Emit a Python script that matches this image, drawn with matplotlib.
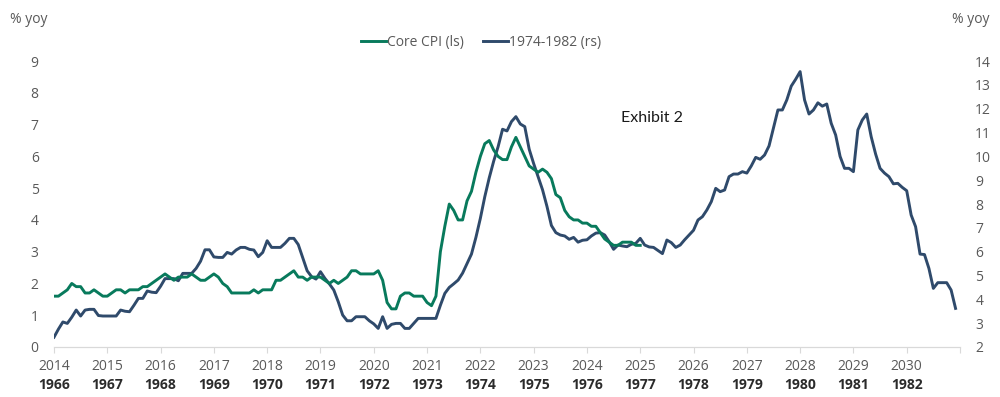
import numpy as np
import matplotlib
matplotlib.use("Agg")
import matplotlib.pyplot as plt
import matplotlib.transforms as mtransforms

# core CPI yoy, monthly Jan 2014 - Jan 2025 (left scale)
core_cpi = [
    1.6, 1.6, 1.7, 1.8, 2.0, 1.9, 1.9, 1.7, 1.7, 1.8, 1.7, 1.6,
    1.6, 1.7, 1.8, 1.8, 1.7, 1.8, 1.8, 1.8, 1.9, 1.9, 2.0, 2.1,
    2.2, 2.3, 2.2, 2.1, 2.2, 2.2, 2.2, 2.3, 2.2, 2.1, 2.1, 2.2,
    2.3, 2.2, 2.0, 1.9, 1.7, 1.7, 1.7, 1.7, 1.7, 1.8, 1.7, 1.8,
    1.8, 1.8, 2.1, 2.1, 2.2, 2.3, 2.4, 2.2, 2.2, 2.1, 2.2, 2.2,
    2.2, 2.1, 2.0, 2.1, 2.0, 2.1, 2.2, 2.4, 2.4, 2.3, 2.3, 2.3,
    2.3, 2.4, 2.1, 1.4, 1.2, 1.2, 1.6, 1.7, 1.7, 1.6, 1.6, 1.6,
    1.4, 1.3, 1.6, 3.0, 3.8, 4.5, 4.3, 4.0, 4.0, 4.6, 4.9, 5.5,
    6.0, 6.4, 6.5, 6.2, 6.0, 5.9, 5.9, 6.3, 6.6, 6.3, 6.0, 5.7,
    5.6, 5.5, 5.6, 5.5, 5.3, 4.8, 4.7, 4.3, 4.1, 4.0, 4.0, 3.9,
    3.9, 3.8, 3.8, 3.6, 3.4, 3.3, 3.2, 3.2, 3.3, 3.3, 3.3, 3.2,
    3.2,
]

# 1966-1982 yoy, monthly (right scale)
cpi_70s = [
    2.41, 2.75, 3.05, 2.99, 3.25, 3.55, 3.30, 3.55, 3.58, 3.58, 3.32, 3.30,
    3.30, 3.30, 3.30, 3.55, 3.50, 3.48, 3.75, 4.04, 4.04, 4.35, 4.30, 4.28,
    4.55, 4.87, 4.87, 4.87, 4.78, 5.09, 5.09, 5.09, 5.30, 5.60, 6.08, 6.08,
    5.78, 5.76, 5.76, 5.97, 5.90, 6.07, 6.18, 6.18, 6.10, 6.07, 5.79, 5.97,
    6.46, 6.18, 6.18, 6.18, 6.35, 6.56, 6.56, 6.30, 5.75, 5.20, 4.95, 4.85,
    5.16, 4.88, 4.65, 4.39, 3.90, 3.34, 3.10, 3.10, 3.27, 3.27, 3.27, 3.10,
    2.97, 2.78, 3.27, 2.78, 2.95, 2.99, 2.99, 2.78, 2.78, 2.99, 3.20, 3.20,
    3.20, 3.20, 3.20, 3.75, 4.25, 4.50, 4.65, 4.81, 5.10, 5.50, 5.90, 6.60,
    7.40, 8.31, 9.10, 9.80, 10.41, 11.14, 11.07, 11.46, 11.67, 11.36, 11.25, 10.30,
    9.70, 9.15, 8.60, 7.90, 7.10, 6.80, 6.70, 6.66, 6.52, 6.60, 6.40, 6.48,
    6.50, 6.66, 6.78, 6.80, 6.70, 6.42, 6.10, 6.28, 6.24, 6.21, 6.31, 6.35,
    6.56, 6.28, 6.20, 6.18, 6.05, 5.92, 6.49, 6.38, 6.18, 6.28, 6.50, 6.70,
    6.90, 7.33, 7.47, 7.75, 8.10, 8.66, 8.52, 8.59, 9.15, 9.26, 9.26, 9.36,
    9.30, 9.60, 9.96, 9.88, 10.06, 10.44, 11.20, 11.95, 11.95, 12.37, 12.95, 13.24,
    13.56, 12.37, 11.78, 11.95, 12.25, 12.11, 12.20, 11.39, 10.90, 10.00, 9.50, 9.50,
    9.36, 11.11, 11.53, 11.78, 10.83, 10.10, 9.50, 9.30, 9.15, 8.85, 8.87, 8.70,
    8.56, 7.54, 7.05, 5.90, 5.88, 5.30, 4.46, 4.70, 4.70, 4.70, 4.39, 3.62,
]

years_now = list(range(2014, 2031))
years_then = list(range(1966, 1983))

GREEN = "#087A5C"
NAVY = "#2F4A6B"
GREY = "#595959"
AXIS = "#D9D9D9"

plt.rcParams['font.family'] = ['Open Sans', 'DejaVu Sans']

fig = plt.figure(figsize=(10, 3.97), dpi=100)
ax = fig.add_axes([0.054, 0.126, 0.906, 0.72])
ax2 = ax.twinx()

# both series start at the left edge, one point per month
x_now = years_now[0] + np.arange(len(core_cpi)) / 12
x_then = years_now[0] + np.arange(len(cpi_70s)) / 12

l1, = ax.plot(x_now, core_cpi, color=GREEN, lw=2.1, label="Core CPI (ls)", zorder=3)
l2, = ax2.plot(x_then, cpi_70s, color=NAVY, lw=2.1, label="1974-1982 (rs)")
ax.set_zorder(ax2.get_zorder() + 1)
ax.patch.set_visible(False)

ax.set_xlim(2014, 2031)
ax.set_ylim(0, 9)
ax2.set_ylim(2, 14)
ax.set_yticks(range(0, 10))
ax2.set_yticks(range(2, 15))

for a in (ax, ax2):
    for s in ("top", "left", "right"):
        a.spines[s].set_visible(False)
    a.spines["bottom"].set_color(AXIS)
    a.tick_params(axis="y", length=0, labelsize=10, colors=GREY, pad=11)

ax.set_xticks(years_now + [2031])
ax.set_xticklabels([str(y) for y in years_now] + [""])
ax.tick_params(axis="x", length=4, color=AXIS, labelsize=10, labelcolor=GREY, pad=5)
ax2.tick_params(axis="x", length=0)

# second row of year labels (the 1966-1982 dates)
trans = mtransforms.blended_transform_factory(ax.transData, fig.transFigure)
for yn, yt in zip(years_now, years_then):
    ax.text(yn, 0.03, str(yt), transform=trans, ha="center", va="center",
            fontsize=10, fontweight="bold", color="#2b2b2b")

fig.text(0.01, 0.952, "% yoy", fontsize=10, color=GREY, va="center", ha="left")
fig.text(0.99, 0.952, "% yoy", fontsize=10, color=GREY, va="center", ha="right")

fig.legend(handles=[l1, l2], loc="center", bbox_to_anchor=(0.481, 0.894), ncol=2,
           frameon=False, fontsize=10, handlelength=1.8, handletextpad=0.05,
           columnspacing=1.4, labelcolor=GREY)

fig.text(0.652, 0.703, "Exhibit 2", fontsize=11.5, family="Lato", color="#1a1a1a",
         ha="center", va="center")

fig.savefig("out.png", dpi=100)
